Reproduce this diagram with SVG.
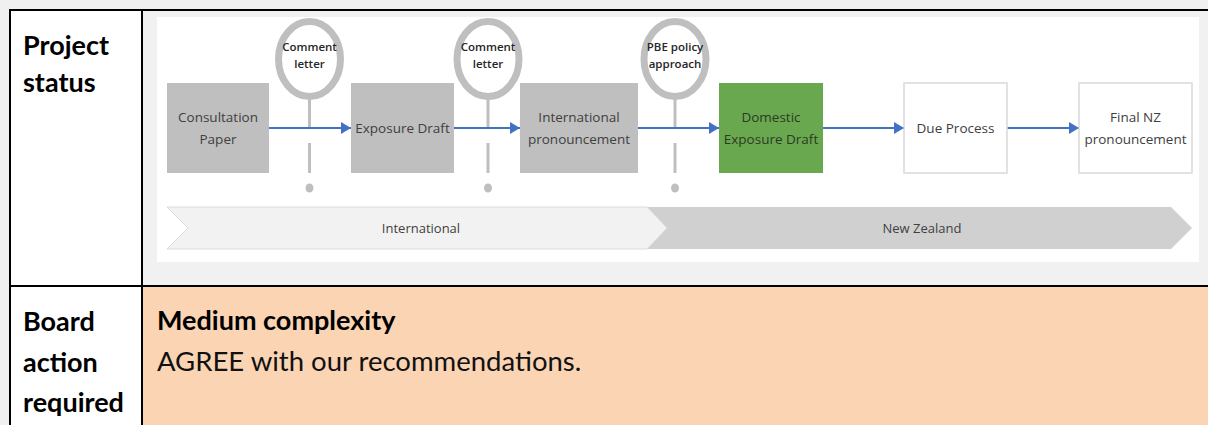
<svg xmlns="http://www.w3.org/2000/svg" width="1208" height="425" viewBox="0 0 1208 425">
  <defs>
    <style>
      .cellhead { font-family: Lato, "Liberation Sans", sans-serif; font-weight: 700; font-size: 27px; fill: #000; }
      .body { font-family: Lato, "Liberation Sans", sans-serif; font-size: 27.5px; fill: #111; }
      .bodyb { font-family: Lato, "Liberation Sans", sans-serif; font-weight: 700; font-size: 27px; fill: #000; }
      .box { stroke: none; }
      .grey { fill: #bfbfbf; }
      .green { fill: #6aa84f; }
      .open { fill: #ffffff; stroke: #d9d9d9; stroke-width: 1.5; }
      .lbl { font-family: "Open Sans", "Noto Sans", sans-serif; font-size: 13.5px; fill: #404040; text-anchor: middle; }
      .ms { font-family: "Open Sans", "Noto Sans", sans-serif; font-size: 11.5px; font-weight: 600; fill: #262626; text-anchor: middle; }
      .band { font-family: "Open Sans", "Noto Sans", sans-serif; font-size: 13px; fill: #404040; text-anchor: middle; }
      .ring { fill: #ffffff; stroke: #bfbfbf; stroke-width: 7; }
      .stem { stroke: #bfbfbf; stroke-width: 3; fill: none; }
      .dot { fill: #bfbfbf; }
      .flow { stroke: #4472c4; stroke-width: 2; fill: none; marker-end: url(#head); }
    </style>
    <marker id="head" viewBox="0 0 10 12" refX="10" refY="6" markerWidth="10" markerHeight="12" markerUnits="userSpaceOnUse" orient="auto">
      <path d="M0,0 L10,6 L0,12 Z" fill="#4472c4"/>
    </marker>
  </defs>

  <!-- page and table cells -->
  <rect x="0" y="0" width="1208" height="425" fill="#f0f0f0"/>
  <rect x="10" y="10" width="132" height="415" fill="#ffffff"/>
  <rect x="142" y="10" width="1066" height="276" fill="#f1f1f1"/>
  <rect x="142" y="286" width="1066" height="139" fill="#fbd4b4"/>

  <!-- table rules -->
  <g stroke="#000" stroke-width="2" fill="none">
    <line x1="10" y1="10" x2="1208" y2="10"/>
    <line x1="10" y1="9" x2="10" y2="425"/>
    <line x1="142" y1="10" x2="142" y2="425"/>
    <line x1="10" y1="286" x2="1208" y2="286"/>
  </g>

  <!-- row headings -->
  <text class="cellhead" x="23" y="55">Project</text>
  <text class="cellhead" x="23" y="92">status</text>
  <text class="cellhead" x="23" y="331">Board</text>
  <text class="cellhead" x="23" y="372">action</text>
  <text class="cellhead" x="23" y="412">required</text>

  <!-- board action text -->
  <text class="bodyb" x="157" y="330">Medium complexity</text>
  <text class="body" x="157" y="371">AGREE with our recommendations.</text>

  <!-- process panel -->
  <rect x="157" y="17" width="1042" height="245" fill="#ffffff"/>

  <!-- jurisdiction bands -->
  <g id="band-nz">
    <polygon points="647,207 1171,207 1192,228 1171,249 647,249 667,228" fill="#d0d0d0"/>
    <text class="band" x="922" y="233">New Zealand</text>
  </g>
  <g id="band-intl">
    <polygon points="167,207 647,207 667,228 647,249 167,249 188,228" fill="#f2f2f2" stroke="#dcdcdc" stroke-width="1"/>
    <text class="band" x="421" y="233">International</text>
  </g>

  <!-- milestones -->
  <g id="ms-comment-1">
    <line class="stem" x1="309.5" y1="98" x2="309.5" y2="129"/>
    <line class="stem" x1="309.5" y1="143" x2="309.5" y2="173"/>
    <ellipse class="dot" cx="309.5" cy="188" rx="4" ry="4.5"/>
    <ellipse class="ring" cx="309.5" cy="59" rx="31" ry="37.5"/>
    <text class="ms" x="309.5" y="51">Comment</text>
    <text class="ms" x="309.5" y="68">letter</text>
  </g>
  <g id="ms-comment-2">
    <line class="stem" x1="488" y1="98" x2="488" y2="129"/>
    <line class="stem" x1="488" y1="143" x2="488" y2="173"/>
    <ellipse class="dot" cx="488" cy="188" rx="4" ry="4.5"/>
    <ellipse class="ring" cx="488" cy="59" rx="31" ry="37.5"/>
    <text class="ms" x="488" y="51">Comment</text>
    <text class="ms" x="488" y="68">letter</text>
  </g>
  <g id="ms-pbe">
    <line class="stem" x1="675" y1="98" x2="675" y2="129"/>
    <line class="stem" x1="675" y1="143" x2="675" y2="173"/>
    <ellipse class="dot" cx="675" cy="188" rx="4" ry="4.5"/>
    <ellipse class="ring" cx="675" cy="59" rx="31" ry="37.5"/>
    <text class="ms" x="675" y="51">PBE policy</text>
    <text class="ms" x="675" y="68">approach</text>
  </g>

  <!-- connectors -->
  <g id="connectors">
    <line class="flow" x1="269" y1="128" x2="351" y2="128"/>
    <line class="flow" x1="454" y1="128" x2="520" y2="128"/>
    <line class="flow" x1="638" y1="128" x2="719" y2="128"/>
    <line class="flow" x1="823" y1="128" x2="904" y2="128"/>
    <line class="flow" x1="1007" y1="128" x2="1079" y2="128"/>
  </g>

  <!-- stages -->
  <g id="consultation-paper">
    <rect class="box grey" x="167" y="83" width="102" height="90"/>
    <text class="lbl" x="218" y="122">Consultation</text>
    <text class="lbl" x="218" y="144">Paper</text>
  </g>
  <g id="exposure-draft">
    <rect class="box grey" x="351" y="83" width="103" height="90"/>
    <text class="lbl" x="402.5" y="133">Exposure Draft</text>
  </g>
  <g id="international-pronouncement">
    <rect class="box grey" x="520" y="83" width="118" height="90"/>
    <text class="lbl" x="579" y="122">International</text>
    <text class="lbl" x="579" y="144">pronouncement</text>
  </g>
  <g id="domestic-exposure-draft">
    <rect class="box green" x="719" y="83" width="104" height="90"/>
    <text class="lbl" x="771" y="122" style="fill:#2b3b24">Domestic</text>
    <text class="lbl" x="771" y="144" style="fill:#2b3b24">Exposure Draft</text>
  </g>
  <g id="due-process">
    <rect class="open" x="904" y="83" width="103" height="90"/>
    <text class="lbl" x="955.5" y="133">Due Process</text>
  </g>
  <g id="final-nz-pronouncement">
    <rect class="open" x="1079" y="83" width="113" height="90"/>
    <text class="lbl" x="1135.5" y="122">Final NZ</text>
    <text class="lbl" x="1135.5" y="144">pronouncement</text>
  </g>
</svg>
